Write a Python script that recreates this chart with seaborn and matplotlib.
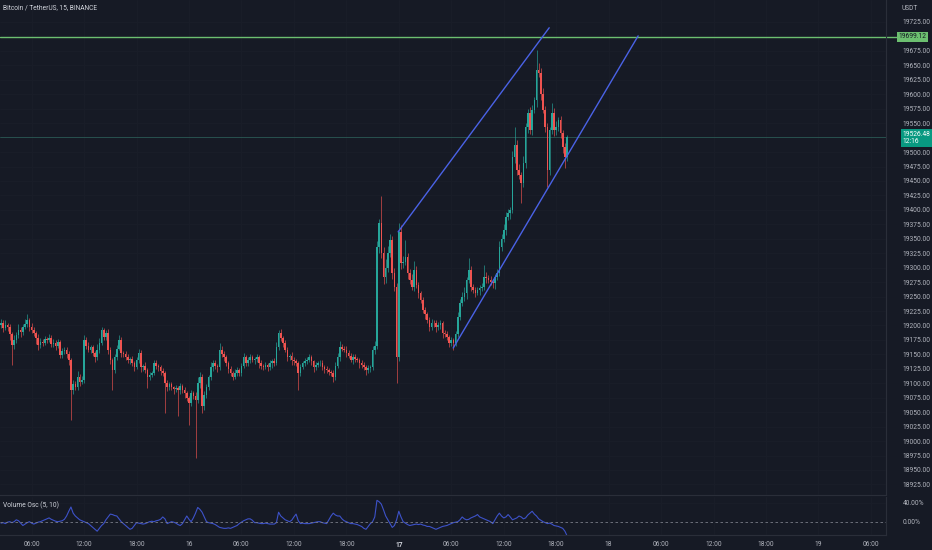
import numpy as np
import pandas as pd
import matplotlib
matplotlib.use("Agg")
import matplotlib.pyplot as plt
import seaborn as sns

# BTC/USDT 15m candles, first bar 15th 02:30
first_open = 19200
closes = [
    19204, 19196, 19200, 19197, 19185, 19166, 19175, 19183, 19192, 19188,
    19197, 19203, 19209, 19198, 19192, 19187, 19178, 19166, 19172, 19170,
    19176, 19175, 19178, 19168, 19170, 19165, 19171, 19149, 19155, 19158,
    19150, 19140, 19088, 19098, 19093, 19111, 19103, 19106, 19175, 19165,
    19158, 19162, 19152, 19145, 19158, 19170, 19192, 19180, 19187, 19158,
    19140, 19123, 19145, 19160, 19175, 19152, 19150, 19145, 19140, 19142,
    19135, 19128, 19140, 19152, 19128, 19130, 19123, 19111, 19115, 19118,
    19135, 19130, 19128, 19122, 19118, 19100, 19093, 19098, 19093, 19090,
    19092, 19088, 19095, 19088, 19083, 19075, 19066, 19083, 19078, 19071,
    19100, 19111, 19060, 19080, 19093, 19110, 19128, 19135, 19130, 19128,
    19158, 19150, 19145, 19135, 19125, 19118, 19111, 19118, 19123, 19118,
    19130, 19145, 19135, 19140, 19145, 19140, 19142, 19145, 19135, 19130,
    19128, 19132, 19128, 19135, 19138, 19135, 19163, 19187, 19178, 19170,
    19158, 19145, 19148, 19140, 19138, 19135, 19118, 19128, 19135, 19138,
    19140, 19145, 19138, 19128, 19132, 19135, 19135, 19128, 19125, 19123,
    19120, 19118, 19111, 19130, 19145, 19163, 19160, 19158, 19152, 19148,
    19140, 19145, 19142, 19140, 19135, 19132, 19128, 19123, 19126, 19128,
    19158, 19165, 19336, 19377, 19325, 19284, 19300, 19325, 19348, 19291,
    19267, 19145, 19362, 19308, 19310, 19318, 19291, 19279, 19267, 19296,
    19270, 19256, 19244, 19227, 19220, 19209, 19197, 19205, 19204, 19197,
    19200, 19204, 19187, 19185, 19180, 19170, 19175, 19170, 19185, 19215,
    19239, 19250, 19256, 19279, 19296, 19267, 19262, 19256, 19261, 19265,
    19267, 19284, 19282, 19279, 19276, 19273, 19284, 19291, 19336, 19350,
    19365, 19388, 19395, 19400, 19491, 19512, 19469, 19460, 19446, 19481,
    19543, 19568, 19538, 19573, 19590, 19642, 19637, 19600, 19573, 19543,
    19469, 19538, 19568, 19538, 19543, 19555, 19533, 19509, 19491, 19526,
]
wick_up = [
    8, 6, 10, 5, 6, 4, 8, 6, 10, 5,
    6, 8, 10, 4, 6, 5, 4, 8, 6, 5,
    6, 4, 8, 5, 6, 4, 5, 3, 6, 5,
    4, 5, 3, 8, 6, 10, 5, 6, 8, 5,
    6, 4, 5, 3, 10, 8, 6, 4, 5, 6,
    5, 4, 5, 6, 8, 5, 4, 6, 5, 4,
    5, 4, 6, 8, 5, 4, 6, 3, 5, 4,
    6, 5, 4, 3, 5, 4, 6, 5, 4, 3,
    5, 4, 6, 3, 5, 4, 3, 5, 4, 6,
    10, 8, 5, 6, 5, 4, 8, 6, 5, 4,
    12, 6, 5, 4, 3, 5, 4, 6, 5, 4,
    5, 8, 4, 5, 6, 4, 3, 5, 4, 6,
    4, 5, 3, 6, 4, 5, 8, 5, 6, 4,
    5, 4, 3, 6, 5, 4, 3, 5, 4, 6,
    5, 6, 4, 3, 5, 4, 6, 5, 3, 4,
    4, 3, 5, 6, 8, 10, 5, 4, 6, 5,
    4, 5, 6, 4, 3, 5, 4, 3, 5, 4,
    6, 8, 10, 8, 47, 10, 15, 12, 10, 6,
    8, 6, 15, 12, 10, 30, 8, 6, 10, 15,
    6, 5, 4, 6, 5, 4, 5, 6, 4, 5,
    6, 5, 4, 5, 6, 4, 5, 3, 6, 8,
    6, 8, 10, 5, 20, 6, 5, 4, 6, 5,
    6, 20, 8, 5, 6, 4, 5, 6, 10, 8,
    10, 8, 6, 5, 10, 31, 8, 10, 6, 12,
    8, 6, 10, 8, 6, 35, 12, 8, 10, 6,
    8, 6, 17, 8, 10, 6, 8, 5, 6, 4,
]
wick_dn = [
    5, 8, 4, 6, 10, 35, 6, 5, 4, 8,
    5, 4, 6, 8, 5, 6, 10, 8, 5, 6,
    4, 5, 3, 6, 5, 8, 4, 6, 5, 4,
    6, 8, 52, 6, 5, 4, 8, 5, 6, 5,
    4, 6, 5, 8, 4, 5, 3, 6, 5, 8,
    6, 35, 5, 4, 3, 6, 5, 4, 5, 6,
    5, 6, 4, 5, 8, 6, 5, 20, 6, 5,
    4, 5, 6, 8, 5, 52, 6, 5, 4, 8,
    5, 45, 6, 5, 8, 6, 38, 5, 6, 100,
    6, 8, 12, 6, 5, 4, 5, 6, 5, 8,
    5, 4, 6, 5, 8, 6, 5, 4, 6, 5,
    6, 4, 5, 6, 5, 4, 6, 5, 8, 6,
    5, 4, 6, 5, 8, 5, 4, 6, 5, 8,
    4, 6, 5, 8, 6, 5, 30, 6, 4, 5,
    5, 4, 6, 8, 5, 4, 6, 5, 8, 6,
    5, 6, 8, 5, 4, 6, 5, 4, 6, 5,
    4, 6, 5, 4, 8, 6, 5, 8, 5, 6,
    5, 8, 6, 10, 8, 12, 10, 8, 6, 10,
    8, 45, 6, 10, 8, 6, 10, 8, 6, 8,
    6, 8, 5, 6, 8, 5, 6, 5, 6, 8,
    5, 6, 8, 5, 6, 8, 5, 12, 6, 5,
    6, 5, 8, 10, 6, 8, 5, 6, 4, 8,
    5, 6, 8, 5, 6, 8, 10, 6, 5, 8,
    6, 8, 5, 10, 6, 10, 8, 6, 34, 6,
    8, 10, 6, 8, 5, 12, 8, 10, 6, 8,
    29, 8, 6, 10, 8, 6, 8, 10, 18, 6,
]
# Volume Osc (5, 10), percent
vol_osc = [
    -3, -2, -4, -1, 0, -2, 0, 4, 2, -3,
    -8, -5, -2, 0, -3, -5, -3, -1, 0, 2,
    4, 6, 8, 5, 3, 1, 0, 1, 2, 5,
    12, 22, 31, 18, 12, 8, 4, 2, 0, -2,
    -4, -8, -12, -16, -20, -14, -8, -4, 4, 10,
    16, 15, 13, 12, 6, 0, -4, -8, -12, -16,
    -14, -8, -2, -3, -4, -5, -4, -2, 0, 1,
    0, 2, 3, 5, 10, 6, -4, -2, 0, -1,
    -3, -6, -8, -4, 4, 12, 5, 0, 8, 18,
    30, 26, 20, 10, 0, -2, -3, -4, -6, -9,
    -12, -13, -14, -14, -13, -14, -12, -10, -8, -4,
    -1, 2, 4, 6, 6, 3, -2, -2, -3, -4,
    -4, -3, -4, -5, -5, -5, -2, 20, 12, 8,
    4, 2, 0, 3, 10, 16, 2, -4, -3, -4,
    -4, -4, -3, -2, -1, 0, 0, -2, -3, -4,
    4, 12, 18, 14, 12, 12, 6, 2, 0, -2,
    -4, -4, -5, -6, -8, -10, -14, -16, -10, -4,
    0, 10, 45, 42, 37, 25, 12, 4, -4, -12,
    -8, 4, 22, 10, 0, -3, -6, -8, -7, -6,
    -5, -6, -5, -7, -8, -10, -10, -12, -14, -16,
    -14, -12, -10, -9, -8, -6, -4, -2, -1, 0,
    4, 10, 6, 4, 5, 8, 10, 12, 15, 10,
    8, 6, 4, 2, 0, -4, 4, 12, 18, 12,
    8, 10, 15, 10, 4, 6, 8, 12, 10, 6,
    8, 14, 18, 22, 16, 12, 6, 3, 0, -2,
    -4, -3, -5, -8, -9, -10, -12, -14, -20, -30,
]

hline_price = 19699.12
last_price = 19526.48
countdown = "12:16"

# hand drawn channel, (bar index, price)
channel_upper = [(181.7, 19362), (250.8, 19715)]
channel_lower = [(206.9, 19161), (291.5, 19701)]

price_ticks = [18925, 18950, 18975, 19000, 19025, 19050, 19075, 19100, 19125,
               19150, 19175, 19200, 19225, 19250, 19275, 19300, 19325, 19350,
               19375, 19400, 19425, 19450, 19475, 19500, 19550, 19575, 19600,
               19625, 19650, 19675, 19725]
time_ticks = [14, 38, 62, 86, 110, 134, 158, 182, 206, 230, 254, 278, 302,
              326, 350, 374, 398]
time_labels = ["06:00", "12:00", "18:00", "16", "06:00", "12:00", "18:00", "17",
               "06:00", "12:00", "18:00", "18", "06:00", "12:00", "18:00", "19",
               "06:00"]

bg = "#161a25"
grid_c = "#1a1e29"
txt_c = "#b2b5be"
up_c = "#26a69a"
dn_c = "#ef5350"

sns.set_theme(style="dark", rc={"axes.facecolor": bg, "figure.facecolor": bg})
plt.rcParams["font.family"] = ["Roboto", "DejaVu Sans"]
fs = 4.8

df = pd.DataFrame({"close": closes, "wu": wick_up, "wd": wick_dn, "osc": vol_osc})
df["open"] = [first_open] + closes[:-1]
df["high"] = df[["open", "close"]].max(axis=1) + df.wu
df["low"] = df[["open", "close"]].min(axis=1) - df.wd
df["idx"] = np.arange(len(df))
cols = np.where(df.close >= df.open, up_c, dn_c)

W, H = 932, 550
fig = plt.figure(figsize=(W / 100, H / 100), dpi=100)
ax = fig.add_axes([0, 1 - 495 / H, 886 / W, 495 / H])
axo = fig.add_axes([0, 1 - 535 / H, 886 / W, 38 / H], sharex=ax)

for a in (ax, axo):
    a.set_facecolor(bg)
    a.grid(True, color=grid_c, lw=0.6)
    for s in a.spines.values():
        s.set_visible(False)
    for side in ("right", "bottom"):
        a.spines[side].set_visible(True)
        a.spines[side].set_color("#2a2e39")
        a.spines[side].set_linewidth(0.8)

# candles
ax.vlines(df.idx, df.low, df.high, colors=cols, lw=0.45, zorder=2)
ax.bar(df.idx, df.close - df.open, bottom=df.open, width=0.72, color=cols,
       linewidth=0, zorder=3)

ax.axhline(last_price, color="#2b5a55", lw=0.6, zorder=1)
ax.axhline(hline_price, color="#6cbf70", lw=1.0, zorder=4)
ax.plot([p[0] for p in channel_upper], [p[1] for p in channel_upper],
        color="#4a62e6", lw=1.0, zorder=5)
ax.plot([p[0] for p in channel_lower], [p[1] for p in channel_lower],
        color="#4a62e6", lw=1.0, zorder=5)

ax.set_ylim(19725 - 473 * 1.7301, 19725 + 22 * 1.7301)
ax.yaxis.tick_right()
ax.set_yticks(price_ticks)
ax.set_yticklabels([f"{v:.2f}" for v in price_ticks])
ax.tick_params(axis="y", length=0, pad=12, labelsize=fs, labelcolor=txt_c)
ax.set_xticks(time_ticks)
ax.tick_params(axis="x", length=0, labelbottom=False)

# price scale labels
tr = ax.get_yaxis_transform()
ax.text(1.014, hline_price, f"{hline_price:.2f}", transform=tr, ha="left",
        va="center", fontsize=fs, color="#131722", clip_on=False,
        bbox=dict(boxstyle="square,pad=0.25", fc="#6cbf70", ec="none"))
ax.text(1.019, last_price - 3, f"{last_price:.2f}\n{countdown}", transform=tr,
        ha="left", va="center", fontsize=fs, color="white", linespacing=1.0,
        clip_on=False,
        bbox=dict(boxstyle="square,pad=0.3", fc="#089981", ec="none"))
ax.plot([1.0, 1.014], [hline_price, hline_price], transform=tr,
        color="#6cbf70", lw=1.0, clip_on=False)

# volume oscillator
sns.lineplot(data=df, x="idx", y="osc", ax=axo, color="#3d52c9", lw=0.8)
axo.axhline(0, color="#787b86", lw=0.6, ls=(0, (3, 3)))
axo.set_ylim(-28, 52)
axo.yaxis.tick_right()
axo.set_yticks([0, 40])
axo.set_yticklabels(["0.00%", "40.00%"])
axo.tick_params(axis="y", length=0, pad=12, labelsize=fs, labelcolor=txt_c)
axo.set_xticks(time_ticks)
axo.set_xticklabels(time_labels)
axo.tick_params(axis="x", length=0, pad=4, labelsize=fs, labelcolor=txt_c)
for t in axo.get_xticklabels():
    if t.get_text() == "17":
        t.set_fontweight("bold")
        t.set_color("#d1d4dc")
axo.set_xlabel("")
axo.set_ylabel("")
ax.set_xlim(-0.46, 404.9)

fig.text(3 / W, 1 - 8 / H, "Bitcoin / TetherUS, 15, BINANCE", fontsize=fs,
         color="#d1d4dc", va="center")
fig.text(902 / W, 1 - 8 / H, "USDT", fontsize=fs, color=txt_c, va="center")
fig.text(3 / W, 1 - 505 / H, "Volume Osc (5, 10)", fontsize=fs,
         color="#d1d4dc", va="center")

fig.savefig("out.png", dpi=100, facecolor=bg)
